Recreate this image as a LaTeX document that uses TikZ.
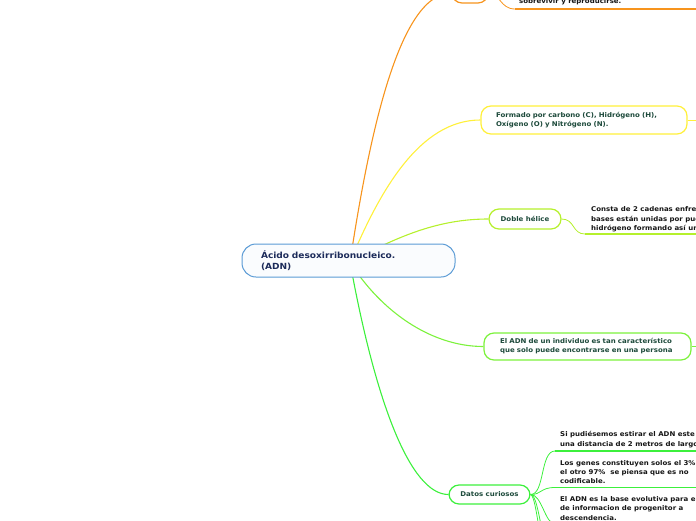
\documentclass[tikz,border=0pt]{standalone}
\usepackage{fontspec}
\setmainfont[FakeStretch=1.07]{DejaVu Sans}
\usetikzlibrary{backgrounds}
\definecolor{cBlue}{HTML}{5B9BD5}
\definecolor{cFill}{HTML}{FAFCFE}
\definecolor{cNavy}{HTML}{1C2B5A}
\definecolor{cOrange}{HTML}{F7941D}
\definecolor{cYellow}{HTML}{FFF03A}
\definecolor{cChart}{HTML}{B5F02C}
\definecolor{cGreen}{HTML}{7CF23C}
\definecolor{cBright}{HTML}{3CF03C}
\definecolor{cNodeText}{HTML}{1D4A3B}
\definecolor{cChildText}{HTML}{151515}
\tikzset{
  mainbox/.style={draw=cBlue, fill=cFill, line width=1pt, rounded corners=14pt,
    minimum height=33pt, text width=175pt, inner xsep=19pt, inner ysep=0pt, align=left,
    text=cNavy, font=\fontsize{8.45}{11}\selectfont\bfseries},
  topicbox/.style={fill=white, line width=1.2pt, rounded corners=10pt, inner ysep=0pt,
    text=cNodeText, font=\fontsize{6.55}{9}\selectfont\bfseries},
  childtext/.style={inner sep=0pt, align=left, text=cChildText,
    font=\fontsize{6.55}{9.3}\selectfont\bfseries},
  branch/.style={line width=1.1pt},
  twig/.style={line width=0.8pt},
  underl/.style={line width=1.8pt}
}
\begin{document}
\begin{tikzpicture}[x=1pt,y=-1pt]
\useasboundingbox (0,0) rectangle (696,520);
% central topic
\node[mainbox] (c) at (348.5,260.5) {Ácido desoxirribonucleico.\\(ADN)};
\coordinate (hub) at (350,262);
% main topics
\node[topicbox, draw=cOrange, minimum width=36pt, minimum height=20pt] (t1) at (470,-7) {};
\node[topicbox, draw=cYellow, minimum height=28pt, text width=176pt, inner xsep=15pt, align=left] (t2) at (584,120)
  {Formado por carbono (C), Hidrógeno (H),\\Oxígeno (O) y Nitrógeno (N).};
\node[topicbox, draw=cChart, minimum width=72pt, minimum height=20pt] (t3) at (525,219) {Doble hélice};
\node[topicbox, draw=cGreen, minimum height=27pt, text width=175pt, inner xsep=16pt, align=left] (t4) at (587.5,346.5)
  {El ADN de un individuo es tan característico\\que solo puede encontrarse en una persona};
\node[topicbox, draw=cBright, minimum width=81pt, minimum height=19pt] (t5) at (489.5,494.5) {Datos curiosos};
% child texts
\node[childtext, anchor=base west] (k1) at (519,3) {sobrevivir y reproducirse.};
\node[childtext, anchor=west] (k3) at (591,219.5) {Consta de 2 cadenas enfren\\bases están unidas por pue\\hidrógeno formando así un};
\node[childtext, anchor=west] (k51) at (560,439.5) {Si pudiésemos estirar el ADN este\\una distancia de 2 metros de largo};
\node[childtext, anchor=west] (k52) at (560,472) {Los genes constituyen solos el 3\%\\el otro 97\%\ \ se piensa que es no\\codificable.};
\node[childtext, anchor=west] (k53) at (560,508.5) {El ADN es la base evolutiva para el\\de informacion de progenitor a\\descendencia.};
% underline anchors
\coordinate (u1) at (515,9);   \coordinate (u1e) at (700,9);
\coordinate (u3) at (585,234); \coordinate (u3e) at (700,234);
\coordinate (u51) at (555,451); \coordinate (u51e) at (700,451);
\coordinate (u52) at (555,487.5); \coordinate (u52e) at (700,487.5);
\coordinate (u53) at (555,524); \coordinate (u53e) at (700,524);
\coordinate (u54) at (555,560);
\coordinate (u55) at (555,600);
\coordinate (s2) at (700,120);
\coordinate (s4) at (700,346.5);
\begin{pgfonlayer}{background}
  % branches from the central topic
  \draw[branch, cOrange] (hub) .. controls (370,130) and (400,-7) .. (t1.west);
  \draw[branch, cYellow] (hub) .. controls (380,190) and (420,120) .. (t2.west);
  \draw[branch, cChart] (hub) .. controls (400,235) and (440,219) .. (t3.west);
  \draw[branch, cGreen] (hub) .. controls (380,310) and (430,346.5) .. (t4.west);
  \draw[branch, cBright] (hub) .. controls (375,400) and (410,494.5) .. (t5.west);
  % sub branches
  \draw[twig, cOrange] (t1.east) .. controls (500,-7) and (500,9) .. (u1);
  \draw[underl, cOrange] (u1) -- (u1e);
  \draw[twig, cYellow] (t2.east) -- (s2);
  \draw[twig, cChart] (t3.east) .. controls (575,219) and (572,234) .. (u3);
  \draw[underl, cChart] (u3) -- (u3e);
  \draw[twig, cGreen] (t4.east) -- (s4);
  \draw[twig, cBright] (t5.east) .. controls (545,494.5) and (540,451) .. (u51);
  \draw[underl, cBright] (u51) -- (u51e);
  \draw[twig, cBright] (t5.east) .. controls (542,494.5) and (540,487.5) .. (u52);
  \draw[underl, cBright] (u52) -- (u52e);
  \draw[twig, cBright] (t5.east) .. controls (542,494.5) and (545,524) .. (u53);
  \draw[underl, cBright] (u53) -- (u53e);
  \draw[twig, cBright] (t5.east) .. controls (540,494.5) and (542,560) .. (u54);
  \draw[twig, cBright] (t5.east) .. controls (538,494.5) and (545,600) .. (u55);
\end{pgfonlayer}
\end{tikzpicture}
\end{document}
